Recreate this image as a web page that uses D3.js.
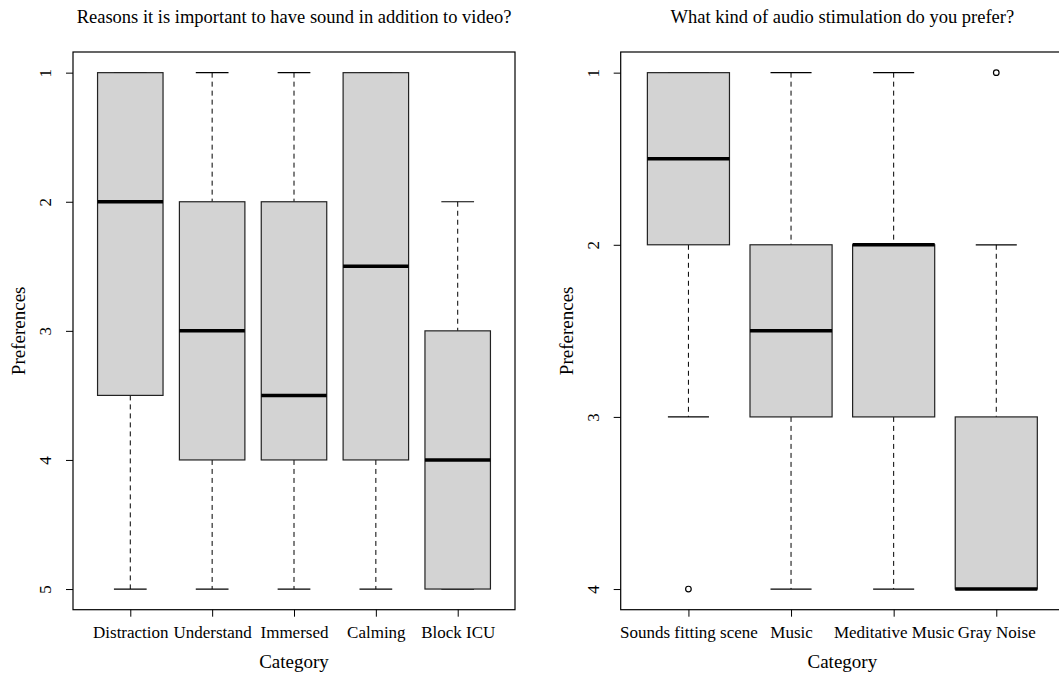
<!DOCTYPE html>
<html lang="en">
<head>
  <meta charset="UTF-8">
  <title>Sound preferences</title>
  <script src="https://d3js.org/d3.v7.min.js"></script>
  <style>
    body { margin: 0; background: #fff; }
    svg { display: block; font-family: 'Liberation Serif', 'Times New Roman', serif; }
    .axis text { font-size: 17px; fill: #000; font-family: 'Liberation Serif', 'Times New Roman', serif; }
    .axis line { stroke: #000; }
  </style>
</head>
<body>
  <svg width="1059" height="673"></svg>

  <script>
    // Left panel: reasons for sound
    const reasonCategories = ["Distraction", "Understand", "Immersed", "Calming", "Block ICU"];
    const reasonLowerWhisker = [1, 1, 1, 1, 2];
    const reasonQ1 = [1, 2, 2, 1, 3];
    const reasonMedian = [2, 3, 3.5, 2.5, 4];
    const reasonQ3 = [3.5, 4, 4, 4, 5];
    const reasonUpperWhisker = [5, 5, 5, 5, 5];
    const reasonOutliers = [[], [], [], [], []];
    const reasonTicks = [1, 2, 3, 4, 5];

    // Right panel: audio stimulation
    const audioCategories = ["Sounds fitting scene", "Music", "Meditative Music", "Gray Noise"];
    const audioLowerWhisker = [1, 1, 1, 2];
    const audioQ1 = [1, 2, 2, 3];
    const audioMedian = [1.5, 2.5, 2, 4];
    const audioQ3 = [2, 3, 3, 4];
    const audioUpperWhisker = [3, 4, 4, 4];
    const audioOutliers = [[4], [], [], [1]];
    const audioTicks = [1, 2, 3, 4];

    const svg = d3.select("svg");

    function boxPanel(opts) {
      const { left, right, top, bottom, cats, lo, q1, med, q3, hi, outl, ticks, title } = opts;
      const n = cats.length;
      // R-style 4% extension of the data range
      const xr = [0.5, n + 0.5], xpad = (xr[1] - xr[0]) * 0.04;
      const yr = d3.extent(ticks), ypad = (yr[1] - yr[0]) * 0.04;

      const x = d3.scaleLinear().domain([xr[0] - xpad, xr[1] + xpad]).range([left, right]);
      const y = d3.scaleLinear().domain([yr[0] - ypad, yr[1] + ypad]).range([top, bottom]);
      const boxW = (x(1) - x(0)) * 0.8;
      const capW = boxW / 2;

      const data = cats.map((c, i) => ({ i: i + 1, c, lo: lo[i], q1: q1[i], med: med[i], q3: q3[i], hi: hi[i], out: outl[i] }));
      const g = svg.append("g");

      // whiskers
      g.selectAll(".wlo").data(data).join("line")
        .attr("x1", d => x(d.i)).attr("x2", d => x(d.i))
        .attr("y1", d => y(d.lo)).attr("y2", d => y(d.q1))
        .attr("stroke", "#000").attr("stroke-dasharray", "5,4");
      g.selectAll(".whi").data(data).join("line")
        .attr("x1", d => x(d.i)).attr("x2", d => x(d.i))
        .attr("y1", d => y(d.q3)).attr("y2", d => y(d.hi))
        .attr("stroke", "#000").attr("stroke-dasharray", "5,4");
      // staples
      ["lo", "hi"].forEach(k => {
        g.selectAll(".cap" + k).data(data).join("line")
          .attr("x1", d => x(d.i) - capW / 2).attr("x2", d => x(d.i) + capW / 2)
          .attr("y1", d => y(d[k])).attr("y2", d => y(d[k]))
          .attr("stroke", "#000").attr("stroke-width", 1.2);
      });
      // boxes
      g.selectAll("rect").data(data).join("rect")
        .attr("x", d => x(d.i) - boxW / 2).attr("width", boxW)
        .attr("y", d => y(d.q1)).attr("height", d => y(d.q3) - y(d.q1))
        .attr("fill", "#d3d3d3").attr("stroke", "#222").attr("stroke-width", 1.2);
      // medians
      g.selectAll(".med").data(data).join("line")
        .attr("x1", d => x(d.i) - boxW / 2).attr("x2", d => x(d.i) + boxW / 2)
        .attr("y1", d => y(d.med)).attr("y2", d => y(d.med))
        .attr("stroke", "#000").attr("stroke-width", 3.5);
      // outliers
      g.selectAll(".out").data(data.flatMap(d => d.out.map(v => ({ i: d.i, v })))).join("circle")
        .attr("cx", d => x(d.i)).attr("cy", d => y(d.v)).attr("r", 2.8)
        .attr("fill", "none").attr("stroke", "#000").attr("stroke-width", 1.2);

      // plot frame
      svg.append("rect")
        .attr("x", left).attr("y", top).attr("width", right - left).attr("height", bottom - top)
        .attr("fill", "none").attr("stroke", "#000").attr("stroke-width", 1.2);

      // y axis
      const ya = svg.append("g").attr("class", "axis")
        .attr("transform", `translate(${left},0)`)
        .call(d3.axisLeft(y).tickValues(ticks).tickSize(7).tickFormat(d3.format("d")));
      ya.select(".domain").remove();
      ya.selectAll("text")
        .attr("x", null).attr("dy", null)
        .attr("text-anchor", "middle")
        .attr("transform", "translate(-22,0) rotate(-90)");

      // x axis
      const xa = svg.append("g").attr("class", "axis")
        .attr("transform", `translate(0,${bottom})`)
        .call(d3.axisBottom(x).tickValues(d3.range(1, n + 1)).tickSize(7).tickFormat(d => cats[d - 1]));
      xa.select(".domain").remove();
      xa.selectAll("text").attr("y", 28).attr("dy", null);

      // title and axis labels
      svg.append("text")
        .attr("x", (left + right) / 2).attr("y", 23)
        .attr("text-anchor", "middle").style("font-size", "18.5px")
        .text(title);
      svg.append("text")
        .attr("x", (left + right) / 2).attr("y", 668)
        .attr("text-anchor", "middle").style("font-size", "19px")
        .text("Category");
      svg.append("text")
        .attr("transform", `translate(${left - 48},${(top + bottom) / 2}) rotate(-90)`)
        .attr("text-anchor", "middle").style("font-size", "19px")
        .text("Preferences");
    }

    boxPanel({
      left: 73, right: 515, top: 52, bottom: 609.7,
      cats: reasonCategories, lo: reasonLowerWhisker, q1: reasonQ1, med: reasonMedian,
      q3: reasonQ3, hi: reasonUpperWhisker, outl: reasonOutliers, ticks: reasonTicks,
      title: "Reasons it is important to have sound in addition to video?"
    });

    boxPanel({
      left: 620.7, right: 1064, top: 52, bottom: 609.7,
      cats: audioCategories, lo: audioLowerWhisker, q1: audioQ1, med: audioMedian,
      q3: audioQ3, hi: audioUpperWhisker, outl: audioOutliers, ticks: audioTicks,
      title: "What kind of audio stimulation do you prefer?"
    });
  </script>
</body>
</html>
